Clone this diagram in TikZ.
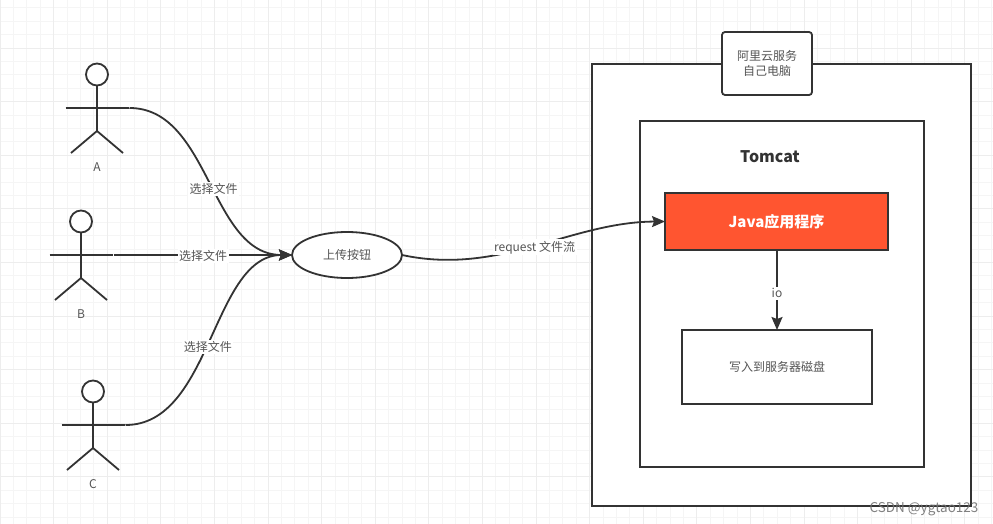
\documentclass[tikz,border=0pt]{standalone}
\usepackage{fontspec}
\setmainfont{Noto Sans CJK SC}
\usepackage{xcolor}
\usepackage{tikz}
\usetikzlibrary{shapes.geometric, arrows.meta, positioning}

\definecolor{inkgray}{HTML}{333333}
\definecolor{textgray}{HTML}{555555}
\definecolor{javared}{HTML}{FF5530}

% one stick figure: name, x of the spine, y of the arms, caption
\newcommand{\stickman}[4]{
    \node [head] (#1head) at (#2,#3-33.5) {};
    \coordinate (#1hip) at (#2,#3+23);
    \coordinate (#1left) at (#2-31.5,#3);
    \coordinate (#1right) at (#2+31.5,#3);
    \coordinate (#1lfoot) at (#2-26,#3+45);
    \coordinate (#1rfoot) at (#2+26,#3+45);
    \draw [body] (#1head) -- (#1hip);
    \draw [body] (#1left) -- (#1right);
    \draw [body] (#1lfoot) -- (#1hip) -- (#1rfoot);
    \node [tag] (#1tag) at (#2,#3+59) {#4};
}

\begin{document}
\begin{tikzpicture}[x=1pt, y=-1pt, font=\fontsize{12}{15}\selectfont,
    head/.style={circle, draw=inkgray, line width=1.8pt, fill=white, minimum size=22pt, inner sep=0pt, outer sep=0pt},
    body/.style={draw=inkgray, line width=1.8pt},
    tag/.style={text=textgray, inner sep=1pt},
    flowlabel/.style={text=textgray, fill=white, inner sep=1.5pt, yshift=-1pt},
    box/.style={rectangle, draw=inkgray, line width=1.8pt, fill=white, text=textgray, anchor=north west, inner sep=0pt, outer sep=0pt},
    arrow/.style={draw=inkgray, line width=1.8pt, -{Stealth[length=13pt, width=11pt, inset=2pt]}},
    minorline/.style={draw=black!4, line width=0.7pt},
    majorline/.style={draw=black!7, line width=0.9pt}]

    \useasboundingbox (0,0) rectangle (993,524);
    \fill [white] (0,0) rectangle (993,524);

    % paper grid
    \foreach \i in {0,...,74} {
        \draw [minorline] ({13.4*\i},0) -- ({13.4*\i},524);
    }
    \foreach \i in {0,...,39} {
        \draw [minorline] (0,{7.8+13.4*\i}) -- (993,{7.8+13.4*\i});
    }
    \foreach \i in {0,...,18} {
        \draw [majorline] ({53.6*\i},0) -- ({53.6*\i},524);
    }
    \foreach \i in {0,...,9} {
        \draw [majorline] (0,{48+53.6*\i}) -- (993,{48+53.6*\i});
    }

    \node [box, minimum width=379pt, minimum height=442pt] (server) at (592,64) {};
    \node [box, rounded corners=3pt, minimum width=90pt, minimum height=63pt, align=center] (cloud) at (722,32) {阿里云服务\\ 自己电脑};
    \node [box, minimum width=284pt, minimum height=346pt] (tomcat) at (640,121) {};
    \node [text=inkgray, font=\fontsize{16}{18}\selectfont\bfseries] (tomcattitle) at (770,157) {Tomcat};
    \node [box, fill=javared, text=white, minimum width=223pt, minimum height=57pt, font=\fontsize{15}{18}\selectfont\bfseries] (java) at (665,193) {Java应用程序};
    \node [box, minimum width=190pt, minimum height=74pt] (disk) at (682,330) {写入到服务器磁盘};
    \node [ellipse, draw=inkgray, line width=1.8pt, fill=white, text=textgray, minimum width=110pt, minimum height=46pt, inner sep=0pt, outer sep=0pt] (upload) at (347,255) {上传按钮};

    \stickman{a}{97}{108}{A}
    \stickman{b}{81}{255}{B}
    \stickman{c}{93}{425}{C}

    \draw [arrow, shorten <=1pt] (aright) .. controls (210,108) and (210,255) .. (upload.west) node [flowlabel, pos=0.53] (labela) {选择文件};
    \draw [arrow, shorten <=1pt] (bright) -- (upload.west) node [flowlabel, pos=0.505] (labelb) {选择文件};
    \draw [arrow, shorten <=1pt] (cright) .. controls (212,425) and (212,255) .. (upload.west) node [flowlabel, pos=0.475] (labelc) {选择文件};
    \draw [arrow] (upload.east) .. controls (500,276) and (570,222) .. (java.west) node [flowlabel, pos=0.5] (labelreq) {request 文件流};
    \draw [arrow] (java.south -| disk.north) -- (disk.north) node [flowlabel, pos=0.53] (labelio) {io};

    \node [text=black!55, opacity=0.9, font=\fontsize{13.5}{16}\selectfont] (mark) at (924,509) {CSDN @ygtao123};
\end{tikzpicture}
\end{document}
